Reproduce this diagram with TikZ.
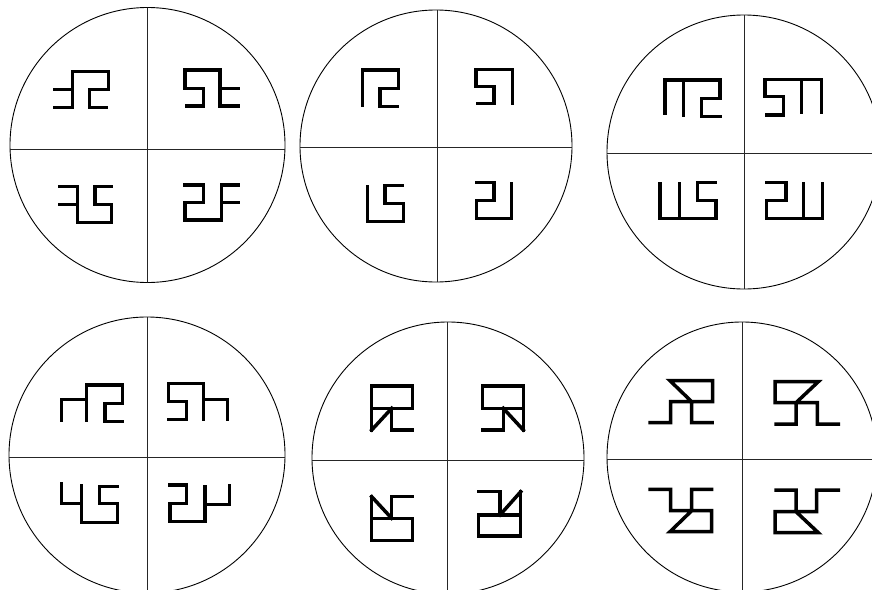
\documentclass[tikz,border=0pt]{standalone}
\begin{document}
\begin{tikzpicture}[x=1pt,y=-1pt,
  glyph/.style={line width=3.5pt, line cap=rect, line join=miter},
  ring/.style={line width=0.9pt},
  cross/.style={line width=1pt, black!85}]
\clip (0,0) rectangle (872,589);
\fill[white] (0,0) rectangle (872,589);
% ---------- circles with crosses ----------
\draw[ring] (147.5,145) circle[radius=137.5];
\begin{scope}\clip (147.5,145) circle[radius=137.5];
\draw[cross] (147,0)--(147,600); \draw[cross] (0,149)--(300,149);\end{scope}
\draw[ring] (436,146) circle[radius=136];
\begin{scope}\clip (436,146) circle[radius=136];
\draw[cross] (437.7,0)--(437.7,600); \draw[cross] (290,147.7)--(600,147.7);\end{scope}
\draw[ring] (744,152) circle[radius=137];
\begin{scope}\clip (744,152) circle[radius=137];
\draw[cross] (744.3,0)--(744.3,600); \draw[cross] (590,153.3)--(900,153.3);\end{scope}
\draw[ring] (147,455) circle[radius=138];
\begin{scope}\clip (147,455) circle[radius=138];
\draw[cross] (147.3,300)--(147.3,600); \draw[cross] (0,457.7)--(300,457.7);\end{scope}
\draw[ring] (448,458) circle[radius=136];
\begin{scope}\clip (448,458) circle[radius=136];
\draw[cross] (447.7,300)--(447.7,600); \draw[cross] (300,460)--(600,460);\end{scope}
\draw[ring] (742,457) circle[radius=135];
\begin{scope}\clip (742,457) circle[radius=135];
\draw[cross] (742.3,300)--(742.3,600); \draw[cross] (590,459.3)--(900,459.3);\end{scope}
% ---------- circle 1 ----------
\draw[glyph] (55,89.3)--(72.7,89.3); \draw[glyph] (55,107.3)--(72.7,107.3);
\draw[glyph] (72.7,107.3)--(72.7,71.7)--(108.3,71.7)--(108.3,89.3)--(89.3,89.3)--(89.3,107.3)--(106.7,107.3);
\draw[glyph] (220,106)--(220,70)--(185,70)--(185,88.3)--(203.3,88.3)--(203.3,106)--(186.7,106);
\draw[glyph] (220,88.3)--(238.3,88.3); \draw[glyph] (220,106)--(238.3,106);
\draw[glyph] (60,186.7)--(77.3,186.7)--(77.3,222.7)--(111.7,222.7)--(111.7,204.3)--(95,204.3)--(95,186.7)--(111.7,186.7);
\draw[glyph] (60,204.3)--(77.3,204.3);
\draw[glyph] (185,185)--(203.3,185)--(203.3,202.7)--(185,202.7)--(185,220)--(221.7,220)--(221.7,185)--(238.3,185);
\draw[glyph] (221.7,202.7)--(238.3,202.7);
% ---------- circle 2 ----------
\draw[glyph] (362.7,105)--(362.7,70)--(398.3,70)--(398.3,88.3)--(380,88.3)--(380,106.7)--(397.3,106.7);
\draw[glyph] (512.7,103.3)--(512.7,69.3)--(476,69.3)--(476,86.7)--(494,86.7)--(494,103.3)--(477.3,103.3);
\draw[glyph] (367.3,186.7)--(367.3,221.7)--(403.3,221.7)--(403.3,203.3)--(385,203.3)--(385,185.7)--(402.7,185.7);
\draw[glyph] (476.7,182.7)--(494,182.7)--(494,200.7)--(476.7,200.7)--(476.7,218.3)--(511.7,218.3)--(511.7,184);
% ---------- circle 3 ----------
\draw[glyph] (665,113.3)--(665,80)--(720,80)--(720,98.3)--(701.7,98.3)--(701.7,116.7)--(720,116.7);
\draw[glyph] (683.3,80)--(683.3,115);
\draw[glyph] (821.7,112.7)--(821.7,79.3)--(765,79.3)--(765,96.7)--(783.3,96.7)--(783.3,115)--(766.7,115);
\draw[glyph] (801.7,79.3)--(801.7,112.7);
\draw[glyph] (660,184)--(660,218.3)--(716,218.3)--(716,200.7)--(697.3,200.7)--(697.3,182.7)--(715,182.7);
\draw[glyph] (679.3,184)--(679.3,218.3);
\draw[glyph] (766.7,182.7)--(786,182.7)--(786,200.7)--(766.7,200.7)--(766.7,218.3)--(822.7,218.3)--(822.7,184);
\draw[glyph] (803.3,184)--(803.3,218.3);
% ---------- circle 4 ----------
\draw[glyph] (61.7,420)--(61.7,399.3)--(86.7,399.3);
\draw[glyph] (86.7,420)--(86.7,385)--(122.7,385)--(122.7,403.3)--(105,403.3)--(105,421.7)--(122.7,421.7);
\draw[glyph] (203.3,419.3)--(203.3,383.3)--(168.3,383.3)--(168.3,401.7)--(186.7,401.7)--(186.7,419.3)--(168.3,419.3);
\draw[glyph] (203.3,399.3)--(227.3,399.3)--(227.3,419.3);
\draw[glyph] (61.7,484)--(61.7,503.3)--(81.7,503.3);
\draw[glyph] (81.7,486)--(81.7,522.7)--(117.3,522.7)--(117.3,503.3)--(99.3,503.3)--(99.3,486.7)--(117.3,486.7);
\draw[glyph] (170,485)--(186.7,485)--(186.7,503.3)--(170,503.3)--(170,521.7)--(205,521.7)--(205,486.7);
\draw[glyph] (205,504.3)--(229.3,504.3)--(229.3,486);
% ---------- circle 5 ----------
\draw[glyph] (371.7,430)--(371.7,386)--(412.7,386)--(412.7,408.3)--(371.7,408.3);
\draw[glyph] (391.7,408.3)--(391.7,430)--(412.7,430); \draw[glyph] (391.7,408.3)--(371.7,430);
\draw[glyph] (523.3,430)--(523.3,386)--(482.7,386)--(482.7,408.3)--(523.3,408.3);
\draw[glyph] (503.3,408.3)--(503.3,430)--(482.7,430); \draw[glyph] (503.3,408.3)--(523.3,430);
\draw[glyph] (371.7,496.7)--(371.7,540.7)--(412.7,540.7)--(412.7,518.3)--(371.7,518.3);
\draw[glyph] (391.7,518.3)--(391.7,496.7)--(412.7,496.7); \draw[glyph] (371.7,496.7)--(391.7,518.3);
\draw[glyph] (478.3,491.7)--(500,491.7)--(500,515);
\draw[glyph] (520.7,491.7)--(520.7,536)--(478.3,536)--(478.3,515)--(520.7,515);
\draw[glyph] (500,515)--(520.7,491.7);
% ---------- circle 6 ----------
\draw[glyph] (650,422.7)--(670.7,422.7)--(670.7,401.7)--(712.7,401.7)--(712.7,380.7)--(670,380.7)--(691.7,401.7)--(691.7,422.7)--(712,422.7);
\draw[glyph] (838.3,424)--(817.3,424)--(817.3,402.7)--(775,402.7)--(775,381.7)--(818.3,381.7)--(796,402.7)--(796,424)--(776,424);
\draw[glyph] (650,489.3)--(670.7,489.3)--(670.7,510.7)--(711.7,510.7)--(711.7,531.7)--(670,531.7)--(691.7,510.7)--(691.7,489.3)--(711.7,489.3);
\draw[glyph] (776,490)--(796,490)--(796,511.7)--(818.3,532.7)--(775,532.7)--(775,511.7)--(816.7,511.7)--(816.7,490)--(838.3,490);
\end{tikzpicture}
\end{document}
